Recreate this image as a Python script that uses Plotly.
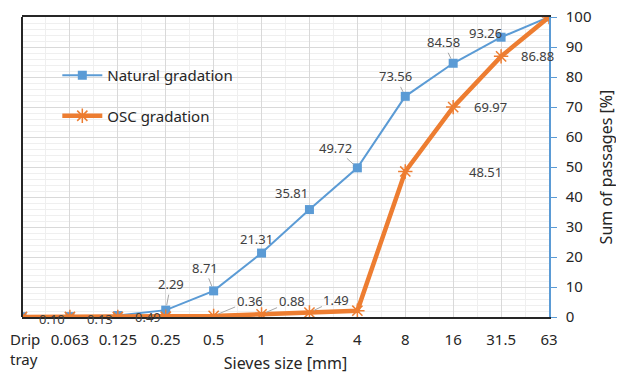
import plotly.graph_objects as go

sieves = ["Drip<br>tray", "0.063", "0.125", "0.25", "0.5", "1", "2", "4", "8", "16", "31.5", "63"]
natural = [0.10, 0.13, 0.49, 2.29, 8.71, 21.31, 35.81, 49.72, 73.56, 84.58, 93.26, 100]
osc = [0.0, 0.0, 0.0, 0.10, 0.36, 0.88, 1.49, 2.1, 48.51, 69.97, 86.88, 100]

# label placement: (dx, dy, leader line) in px from the point, None = no label
nat_labels = [(30, 2, False), (30, 2, False), (30, 1, False), (5, -26, True), (-9, -23, True),
              (-5, -14, False), (-18, -17, False), (-22, -20, True), (-10, -20, True),
              (-10, -21, True), (-16, -4, False), None]
osc_labels = [None, None, None, None, (36, -15, True), (30, -13, True), (27, -13, True), None,
              (80, 1, False), (37, 0, False), (36, 0, False), None]

x = list(range(len(sieves)))
fig = go.Figure()
fig.add_trace(go.Scatter(x=x, y=natural, name="Natural gradation", mode="lines+markers",
                         legendgroup="nat",
                         line=dict(color="#5B9BD5", width=2),
                         marker=dict(symbol="square", size=9, color="#5B9BD5")))
fig.add_trace(go.Scatter(x=x, y=osc, name="OSC gradation", mode="lines+markers",
                         legendgroup="osc",
                         line=dict(color="#ED7D31", width=4.5),
                         marker=dict(symbol="asterisk-open", size=12,
                                     line=dict(color="#ED7D31", width=1.5))))

for vals, labels in [(natural, nat_labels), (osc, osc_labels)]:
    for i, (v, lab) in enumerate(zip(vals, labels)):
        if lab is None:
            continue
        dx, dy, leader = lab
        if leader:
            fig.add_annotation(x=i, y=v, text=f"{v:.2f}", ax=dx, ay=dy, showarrow=True,
                               arrowhead=0, arrowwidth=1, arrowcolor="#a6a6a6",
                               standoff=5, startstandoff=0,
                               font=dict(size=13, color="#404040"))
        else:
            fig.add_annotation(x=i, y=v, text=f"{v:.2f}", xshift=dx, yshift=-dy,
                               showarrow=False, font=dict(size=13, color="#404040"))

# first tick label sits at the very edge, so draw it left-aligned as an annotation
tick_text = [""] + sieves[1:]
fig.add_annotation(xref="paper", yref="paper", x=0, y=0, text=sieves[0], showarrow=False,
                   xanchor="left", yanchor="top", align="left", xshift=-14, yshift=-10,
                   font=dict(size=15, color="#262626"))

# page body has an 8px margin, so the figure is sized/offset to compensate
fig.update_layout(
    width=616, height=366,
    margin=dict(l=14, r=75, t=9, b=57),
    paper_bgcolor="white", plot_bgcolor="white",
    font=dict(family="Noto Sans", color="#262626"),
    showlegend=True,
    legend=dict(x=0.067, y=0.86, xanchor="left", yanchor="top", bgcolor="rgba(0,0,0,0)",
                font=dict(size=15), tracegroupgap=18, itemwidth=40),
    xaxis=dict(range=[0, 11], tickvals=x, ticktext=tick_text, tickfont=dict(size=15),
               automargin=False, ticklabelstandoff=8, ticklabeloverflow="allow",
               showgrid=True, gridcolor="#d9d9d9", gridwidth=1,
               minor=dict(dtick=0.5, showgrid=True, gridcolor="#efefef", tick0=0),
               showline=True, linecolor="#262626", linewidth=2, mirror=True,
               ticks="", zeroline=False,
               title=dict(text="Sieves size [mm]", font=dict(size=16), standoff=10)),
    yaxis=dict(range=[0, 100], dtick=10, side="right", tickfont=dict(size=15),
               automargin=False, ticklabeloverflow="allow", ticklabelstandoff=6,
               showgrid=True, gridcolor="#d9d9d9",
               minor=dict(dtick=2, showgrid=True, gridcolor="#efefef"),
               showline=True, linecolor="#5B9BD5", linewidth=1.5,
               ticks="outside", tickcolor="#5B9BD5", ticklen=6, zeroline=False,
               title=dict(text="Sum of passages [%]", font=dict(size=16), standoff=10)),
)
fig.add_shape(type="line", xref="paper", yref="paper", x0=0, x1=0, y0=0, y1=1,
              line=dict(color="#262626", width=2))
fig.write_html("out.html")
